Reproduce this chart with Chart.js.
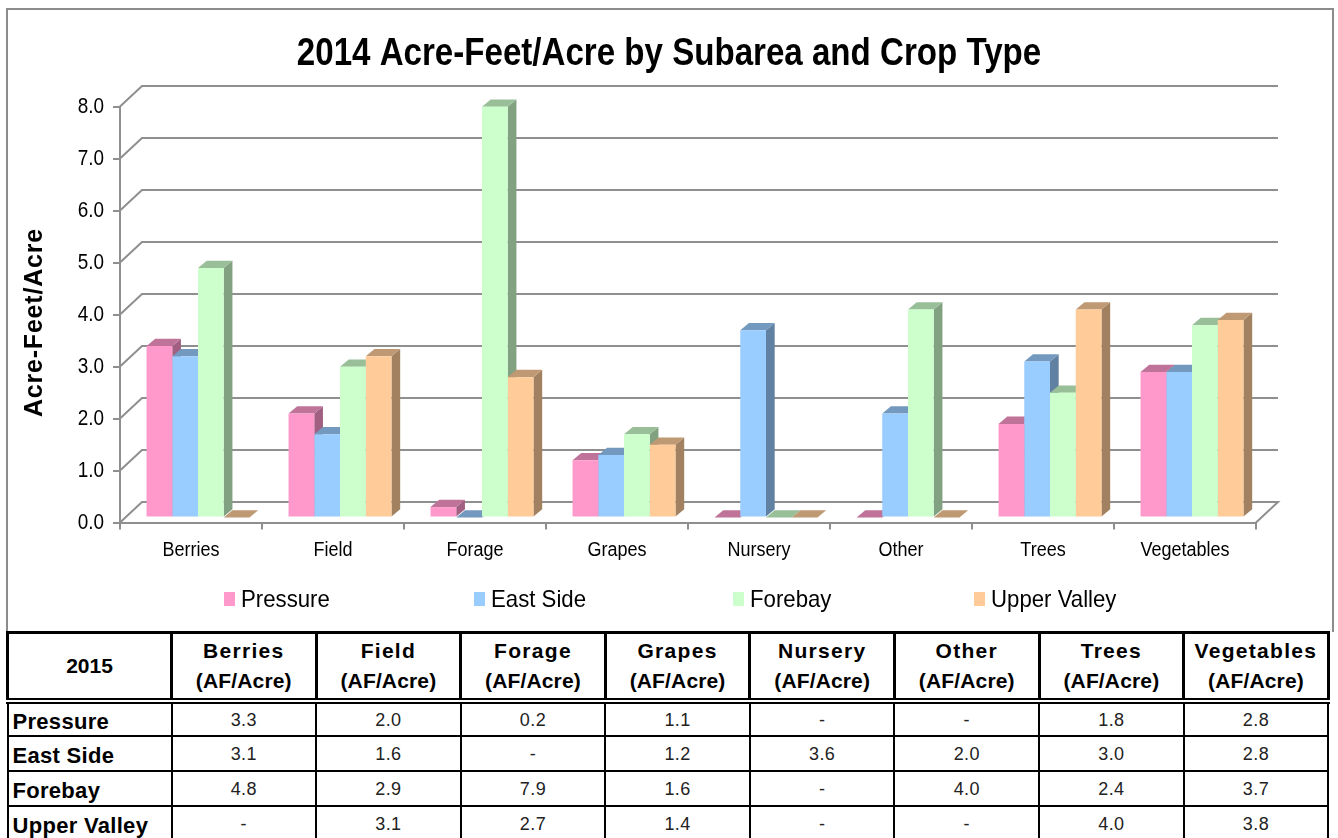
<!DOCTYPE html>
<html><head><meta charset="utf-8">
<script src="https://cdn.jsdelivr.net/npm/chart.js@4"></script>
<style>
html,body{margin:0;padding:0;background:#fff;width:1338px;height:838px;overflow:hidden}
#frame{position:absolute;left:6px;top:8px;width:1324px;height:622px;border:2px solid #8c8c8c;border-bottom:none;box-sizing:content-box}
#wrap{position:absolute;left:0;top:0;width:1338px;height:632px}
table{position:absolute;left:6px;top:631px;border-collapse:collapse;table-layout:fixed;width:1321px;font-family:"Liberation Sans",Arial,sans-serif;color:#000;background:#fff}
td,th{border:2px solid #000;padding:0;text-align:center;overflow:hidden;white-space:nowrap}
thead th{border-width:3px;height:64px;font-size:21px;font-weight:bold;line-height:30px;border-bottom:6px double #000}
thead th .a{letter-spacing:1.3px}
thead th .b{letter-spacing:.15px}
tbody td{height:35px;font-size:18px;color:#222;letter-spacing:.4px;padding-top:2px;box-sizing:border-box}
tbody tr:first-child td{height:35px}
tbody td.r{text-align:left;font-weight:bold;font-size:22px;color:#000;padding-left:4px;padding-top:4px;letter-spacing:.3px}
</style></head><body>
<div id="wrap"><canvas id="c" width="1338" height="632"></canvas></div>
<div id="frame"></div>
<table id="t"></table>
<script>
const tableYear = "2015";
const chartTitle = "2014 Acre-Feet/Acre by Subarea and Crop Type";
const yAxisTitle = "Acre-Feet/Acre";
const unitLabel = "(AF/Acre)";
const categories = ["Berries","Field","Forage","Grapes","Nursery","Other","Trees","Vegetables"];
const seriesNames = ["Pressure","East Side","Forebay","Upper Valley"];
const pressure    = [3.3,2.0,0.2,1.1,0,0,1.8,2.8];
const eastSide    = [3.1,1.6,0,1.2,3.6,2.0,3.0,2.8];
const forebay     = [4.8,2.9,7.9,1.6,0,4.0,2.4,3.7];
const upperValley = [0,3.1,2.7,1.4,0,0,4.0,3.8];
const seriesValues = [pressure,eastSide,forebay,upperValley];
const seriesColors = [[255,153,204],[153,204,255],[204,255,204],[255,204,153]];
const legendX = [224,474,733,974];

const FONT = '"Liberation Sans",Arial,sans-serif';
const rgb = (c,f)=>`rgb(${Math.round(c[0]*f)},${Math.round(c[1]*f)},${Math.round(c[2]*f)})`;
const GRID = '#8f8f8f';
const WALL = {dx:22,dy:-20.5};
const BAR_SHIFT = {dx:7,dy:-5};
const DEPTH = {dx:8.7,dy:-7.3};

/* The reference uses horizontally squeezed Arial: apply that to the text the chart draws. */
function squeezeText(ctx){
  const orig=ctx.fillText.bind(ctx);
  ctx.fillText=function(text,x,y,maxW){
    const f=ctx.font;
    let sx=1;
    if(f.includes('38px')) sx=.871;
    else if(f.includes('24px')) sx=.925;
    else if(f.includes('22px')) sx=.86;
    else if(f.includes('20px')) sx=.9;
    ctx.save();
    ctx.translate(x,y);ctx.scale(sx,1);
    if(f.includes('bold 25px')){ ctx.letterSpacing='.8px'; ctx.translate(-8,0); }
    orig(text,0,0);
    ctx.restore();
  };
}

const threeD = {
  id:'threeD',
  afterLayout(chart){
    if(chart.titleBlock){chart.titleBlock.left=0;chart.titleBlock.right=1338;}
  },
  beforeDatasetsDraw(chart){
    const {ctx,scales:{x,y},chartArea:a}=chart;
    ctx.save();
    ctx.strokeStyle=GRID;ctx.lineWidth=2;
    y.ticks.forEach(t=>{
      const py=y.getPixelForValue(t.value);
      ctx.beginPath();
      ctx.moveTo(a.left,py);
      ctx.lineTo(a.left+WALL.dx,py+WALL.dy);
      ctx.lineTo(a.right+WALL.dx,py+WALL.dy);
      if(t.value===0) ctx.lineTo(a.right,py);
      ctx.stroke();
    });
    ctx.restore();
    ctx.save();
    ctx.translate(BAR_SHIFT.dx,BAR_SHIFT.dy);
    categories.forEach((c,ci)=>{
      seriesNames.forEach((n,si)=>{
        const el=chart.getDatasetMeta(si).data[ci];
        const color=seriesColors[si];
        const l=el.x-el.width/2,r=el.x+el.width/2,t=el.y,b=el.base;
        if(b-t>0.01){
          ctx.fillStyle=rgb(color,.63);
          ctx.beginPath();
          ctx.moveTo(r,t);ctx.lineTo(r+DEPTH.dx,t+DEPTH.dy);
          ctx.lineTo(r+DEPTH.dx,b+DEPTH.dy);ctx.lineTo(r,b);
          ctx.closePath();ctx.fill();
        }
        ctx.fillStyle=rgb(color,.75);
        ctx.beginPath();
        ctx.moveTo(l,t);ctx.lineTo(l+DEPTH.dx,t+DEPTH.dy);
        ctx.lineTo(r+DEPTH.dx,t+DEPTH.dy);ctx.lineTo(r,t);
        ctx.closePath();ctx.fill();
      });
    });
    ctx.restore();
  },
  beforeDatasetDraw(chart){
    chart.ctx.save();
    chart.ctx.translate(BAR_SHIFT.dx,BAR_SHIFT.dy);
  },
  afterDatasetDraw(chart){ chart.ctx.restore(); },
  afterDraw(chart){
    const {ctx}=chart;
    ctx.save();
    ctx.font='24px '+FONT;ctx.textBaseline='middle';ctx.textAlign='left';
    chart.data.datasets.forEach((d,i)=>{
      ctx.fillStyle=d.backgroundColor;
      ctx.fillRect(legendX[i],592,11,14);
      ctx.fillStyle='#000';
      ctx.fillText(d.label,legendX[i]+17,600);
    });
    ctx.restore();
  }
};

const cv=document.getElementById('c');
squeezeText(cv.getContext('2d'));
new Chart(cv,{
  type:'bar',
  data:{labels:categories,datasets:seriesNames.map((n,i)=>({
    label:n,data:seriesValues[i],backgroundColor:rgb(seriesColors[i],1),
    borderWidth:0,categoryPercentage:.725,barPercentage:1,clip:false
  }))},
  plugins:[threeD],
  options:{
    responsive:false,animation:false,
    layout:{padding:{left:20,right:82,top:0,bottom:0}},
    plugins:{
      legend:{display:false},tooltip:{enabled:false},
      title:{display:true,text:chartTitle,color:'#000',
        font:{family:FONT,size:38,weight:'bold',lineHeight:1.2},
        padding:{top:32,bottom:29}}
    },
    scales:{
      x:{type:'category',
        border:{color:GRID,width:2},
        grid:{display:true,drawOnChartArea:false,drawTicks:true,tickLength:7,color:GRID,lineWidth:2,offset:true},
        ticks:{color:'#000',font:{family:FONT,size:20},padding:9,maxRotation:0,autoSkip:false},
        afterFit(s){s.height=109.5;}
      },
      y:{type:'linear',min:0,max:8,
        border:{color:GRID,width:2},
        grid:{display:true,drawOnChartArea:false,drawTicks:true,tickLength:7,color:GRID,lineWidth:2},
        ticks:{stepSize:1,color:'#000',font:{family:FONT,size:22},padding:9,callback:v=>v.toFixed(1)},
        title:{display:true,text:yAxisTitle,color:'#000',font:{family:FONT,size:25,weight:'bold'},padding:{top:0,bottom:0}},
        afterFit(s){s.width=100;}
      }
    }
  }
});

const fmt=v=>v===0?'-':v.toFixed(1);
let html='<colgroup><col style="width:164px">'+categories.map(()=>'<col style="width:144.6px">').join('')+'</colgroup><thead><tr><th>'+tableYear+'</th>';
categories.forEach(c=>html+=`<th><span class="a">${c}</span><br><span class="b">${unitLabel}</span></th>`);
html+='</tr></thead><tbody>';
seriesNames.forEach((n,i)=>{
  html+=`<tr><td class="r">${n}</td>`+seriesValues[i].map(v=>`<td>${fmt(v)}</td>`).join('')+'</tr>';
});
html+='</tbody>';
document.getElementById('t').innerHTML=html;
</script>
</body></html>
